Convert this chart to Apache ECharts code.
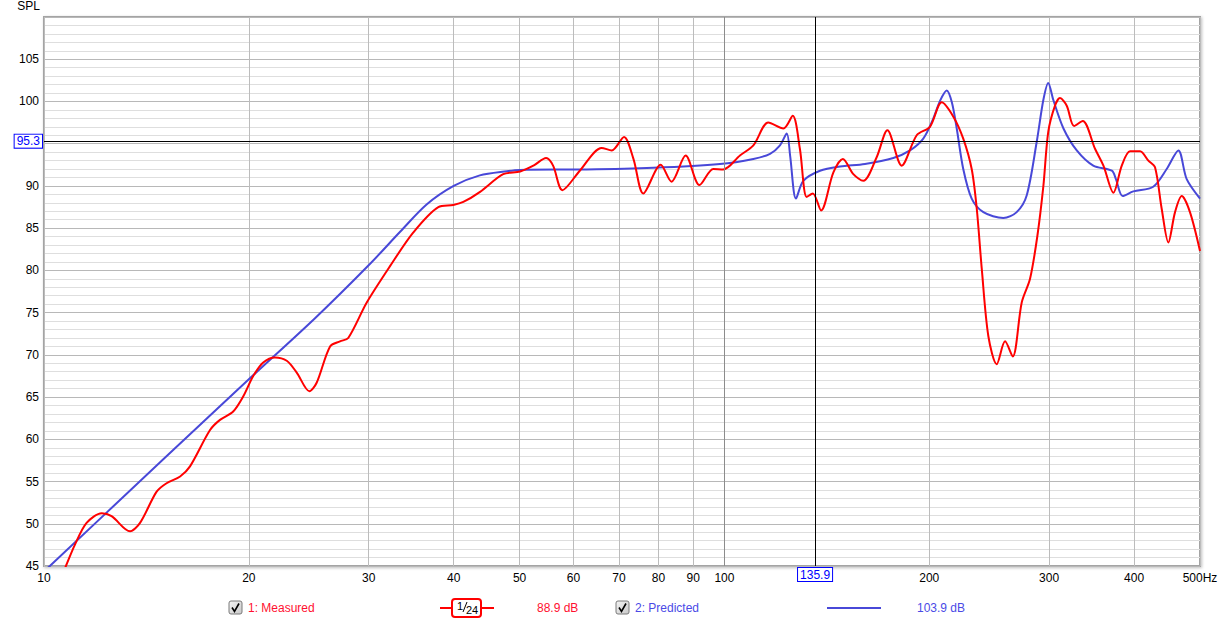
<!DOCTYPE html>
<html>
<head>
<meta charset="utf-8">
<script src="https://cdn.jsdelivr.net/npm/echarts@6/dist/echarts.min.js"></script>
<style>
html,body{margin:0;padding:0;background:#fff;}
#chart{width:1222px;height:623px;}
</style>
</head>
<body>
<div id="chart"></div>
<script>
// ---- data ----
const xTicks = [10, 20, 30, 40, 50, 60, 70, 80, 90, 100, 200, 300, 400, 500];
const yTicks = [45, 50, 55, 60, 65, 70, 75, 80, 85, 90, 95, 100, 105];

const measuredFreq = [10.55, 10.77, 11.1, 11.55, 12.16, 12.57, 13.38, 13.84, 14.64, 15.14, 15.85, 16.39, 17.54, 18.14, 18.97, 19.63, 20.3, 21.0, 21.85, 22.74, 23.52, 24.55, 25.16, 26.33, 27.23, 28.0, 29.81, 32.25, 34.9, 37.98, 39.95, 41.33, 43.74, 47.3, 50.1, 52.4, 54.7, 56.0, 57.8, 61.3, 66.0, 68.3, 71.2, 73.5, 76.0, 80.6, 83.6, 87.7, 91.9, 96.3, 99.6, 105.4, 110.3, 116.0, 122.1, 126.0, 129.1, 132.1, 134.9, 138.7, 144.6, 149.3, 154.7, 160.0, 167.4, 173.6, 182.2, 191.7, 200.5, 208.6, 217.0, 224.4, 230.9, 234.9, 238.9, 244.3, 251.3, 258.5, 265.3, 273.5, 281.3, 288.4, 294.3, 299.2, 306.1, 311.3, 318.5, 326.5, 336.2, 350.5, 360.6, 373.0, 383.7, 394.6, 408.2, 419.8, 429.4, 439.2, 449.2, 459.5, 470.0, 483.3, 500];
const measuredSpl = [43.3, 45.0, 47.5, 50.1, 51.25, 50.9, 49.1, 50.1, 53.8, 54.8, 55.6, 56.8, 61.1, 62.3, 63.3, 65.1, 67.5, 69.1, 69.7, 69.3, 67.9, 65.7, 66.7, 71.0, 71.6, 72.0, 76.2, 80.5, 84.5, 87.5, 87.75, 88.1, 89.3, 91.4, 91.7, 92.4, 93.3, 92.4, 89.5, 91.8, 94.5, 94.2, 95.8, 93.2, 89.1, 92.5, 90.5, 93.6, 90.1, 92.0, 91.95, 93.6, 94.8, 97.5, 96.8, 98.3, 94.4, 88.7, 89.1, 87.1, 91.6, 93.2, 91.4, 90.6, 93.4, 96.6, 92.4, 96.0, 97.0, 99.9, 98.2, 95.6, 92.0, 87.3, 80.2, 72.2, 68.9, 71.6, 69.8, 76.2, 79.0, 84.1, 90.0, 96.4, 99.5, 100.4, 99.5, 97.1, 97.7, 94.4, 92.4, 89.2, 92.4, 94.1, 94.1, 93.0, 92.2, 87.3, 83.3, 86.9, 88.8, 86.9, 82.3];

const predictedFreq = [10, 10.2, 15.0, 20.0, 25.0, 30.0, 33.4, 36.5, 40.0, 43.7, 47.9, 50.1, 62.7, 78.6, 98.5, 110.3, 116.7, 120.7, 123.5, 124.9, 127.4, 130.6, 138.2, 147.9, 160.9, 177.1, 187.4, 196.0, 202.8, 207.5, 212.2, 215.9, 219.5, 224.4, 230.9, 240.2, 257.0, 268.9, 278.2, 287.7, 294.3, 299.2, 304.3, 315.0, 329.5, 348.4, 371.0, 376.2, 384.9, 399.0, 426.8, 446.7, 464.7, 478.0, 500];
const predictedSpl = [44.4, 45.0, 57.7, 67.1, 74.3, 80.6, 84.6, 87.8, 90.0, 91.25, 91.75, 91.9, 91.95, 92.15, 92.6, 93.2, 93.8, 94.8, 96.2, 93.6, 88.5, 90.6, 91.8, 92.3, 92.6, 93.3, 94.2, 95.6, 98.0, 100.1, 101.3, 99.9, 96.8, 92.0, 88.5, 86.9, 86.2, 86.9, 88.9, 95.2, 100.2, 102.2, 100.2, 96.8, 94.2, 92.4, 91.8, 90.8, 88.8, 89.35, 89.9, 92.0, 94.2, 90.8, 88.5];

const cursorFreq = 135.9;
const cursorSpl = 95.3;
const legendNames = ['1: Measured', '2: Predicted'];
const legendValues = ['88.9 dB', '103.9 dB'];
const smoothingLabel = ['1', '24'];

// ---- chart ----
const RED = '#ff0000';
const BLUE = '#4848d8';
const FONT = 'Liberation Sans, Arial, sans-serif';

const measured = measuredFreq.map((f, i) => [f, measuredSpl[i]]);
const predicted = predictedFreq.map((f, i) => [f, predictedSpl[i]]);

const chart = echarts.init(document.getElementById('chart'), null, {renderer: 'svg'});

function checkbox(x, y) {
  return {
    type: 'group', x: x, y: y, children: [
      {type: 'rect', shape: {x: 0, y: 0, width: 13, height: 13, r: 2},
       style: {fill: new echarts.graphic.LinearGradient(0, 0, 1, 1, [{offset: 0, color: '#f4f4f4'}, {offset: 1, color: '#c8c8c8'}]), stroke: '#7a7a7a', lineWidth: 1}},
      {type: 'polyline', shape: {points: [[3, 6.5], [5.5, 10.5], [10, 2.5]]},
       style: {stroke: '#000', lineWidth: 1.6, fill: null}}
    ]
  };
}

const option = {
  animation: false,
  backgroundColor: '#fff',
  grid: {
    left: 44, right: 22, top: 17, bottom: 57,
    show: true, backgroundColor: '#fff',
    borderColor: '#a4a4a4', borderWidth: 2,
    shadowColor: 'rgba(0,0,0,0.25)', shadowBlur: 3, shadowOffsetX: 1, shadowOffsetY: 1
  },
  xAxis: {
    type: 'log', logBase: 10, min: 10, max: 500,
    axisLine: {show: false},
    axisTick: {show: false, customValues: xTicks},
    axisLabel: {
      customValues: xTicks, color: '#000', fontFamily: FONT, fontSize: 12, margin: 6,
      formatter: v => (Math.round(v) === 500 ? '500Hz' : String(Math.round(v)))
    },
    splitLine: {show: true, lineStyle: {color: '#bcbcbc', width: 1}}
  },
  yAxis: {
    type: 'value', min: 45, max: 110, interval: 5,
    name: 'SPL', nameLocation: 'end', nameGap: 5,
    nameTextStyle: {color: '#000', fontFamily: FONT, fontSize: 12, align: 'right', padding: [0, 4, 0, 0]},
    axisLine: {show: false},
    axisTick: {show: false},
    axisLabel: {
      color: '#000', fontFamily: FONT, fontSize: 12, margin: 5, showMaxLabel: false,
      // the 95 label is covered by the cursor readout in the reference
      formatter: v => (yTicks.indexOf(v) >= 0 && Math.abs(v - cursorSpl) > 2 ? String(v) : '')
    },
    splitLine: {show: true, lineStyle: {color: '#b8b8b8', width: 1}},
    minorTick: {show: false, splitNumber: 5},
    minorSplitLine: {show: true, lineStyle: {color: '#dedede', width: 1}}
  },
  series: [
    {
      name: legendNames[1], type: 'line', data: predicted, smooth: 0.3,
      showSymbol: false, symbol: 'none', z: 3,
      lineStyle: {color: BLUE, width: 2}, itemStyle: {color: BLUE},
      markLine: {
        silent: true, symbol: 'none', animation: false,
        data: [
          {xAxis: 100, lineStyle: {color: '#8c8c8c', width: 1, type: 'solid'}, label: {show: false}}
        ]
      }
    },
    {
      name: legendNames[0], type: 'line', data: measured, smooth: 0.3,
      showSymbol: false, symbol: 'none', z: 4,
      lineStyle: {color: RED, width: 2}, itemStyle: {color: RED},
      markLine: {
        silent: true, symbol: 'none', animation: false,
        lineStyle: {color: '#000', width: 1, type: 'solid'},
        label: {
          show: true, position: 'start', distance: 2,
          color: '#0000ff', fontFamily: FONT, fontSize: 12,
          backgroundColor: '#fff', borderColor: '#0000ff', borderWidth: 1, padding: [1, 2, 0, 2]
        },
        data: [
          {xAxis: cursorFreq, label: {formatter: String(cursorFreq)}},
          {yAxis: cursorSpl, label: {formatter: String(cursorSpl)}}
        ]
      }
    }
  ],
  graphic: [
    checkbox(229, 601),
    {type: 'text', x: 248, y: 608, style: {text: legendNames[0], fill: '#ff1030', font: '12px ' + FONT, verticalAlign: 'middle'}},
    {type: 'line', shape: {x1: 440, y1: 608, x2: 494, y2: 608}, style: {stroke: RED, lineWidth: 2}},
    {type: 'rect', shape: {x: 452, y: 599, width: 29, height: 18, r: 3}, style: {fill: '#fff', stroke: RED, lineWidth: 2}},
    {type: 'text', x: 457, y: 600, style: {text: smoothingLabel[0], fill: '#000', font: '11px ' + FONT}},
    {type: 'line', shape: {x1: 463, y1: 612, x2: 467, y2: 602}, style: {stroke: '#000', lineWidth: 1}},
    {type: 'text', x: 466, y: 604, style: {text: smoothingLabel[1], fill: '#000', font: '11px ' + FONT}},
    {type: 'text', x: 537, y: 608, style: {text: legendValues[0], fill: '#ff1030', font: '12px ' + FONT, verticalAlign: 'middle'}},
    checkbox(616, 601),
    {type: 'text', x: 635, y: 608, style: {text: legendNames[1], fill: '#4a4ae6', font: '12px ' + FONT, verticalAlign: 'middle'}},
    {type: 'line', shape: {x1: 827, y1: 608, x2: 881, y2: 608}, style: {stroke: BLUE, lineWidth: 2}},
    {type: 'text', x: 917, y: 608, style: {text: legendValues[1], fill: '#4a4ae6', font: '12px ' + FONT, verticalAlign: 'middle'}}
  ]
};
chart.setOption(option);
</script>
</body>
</html>
